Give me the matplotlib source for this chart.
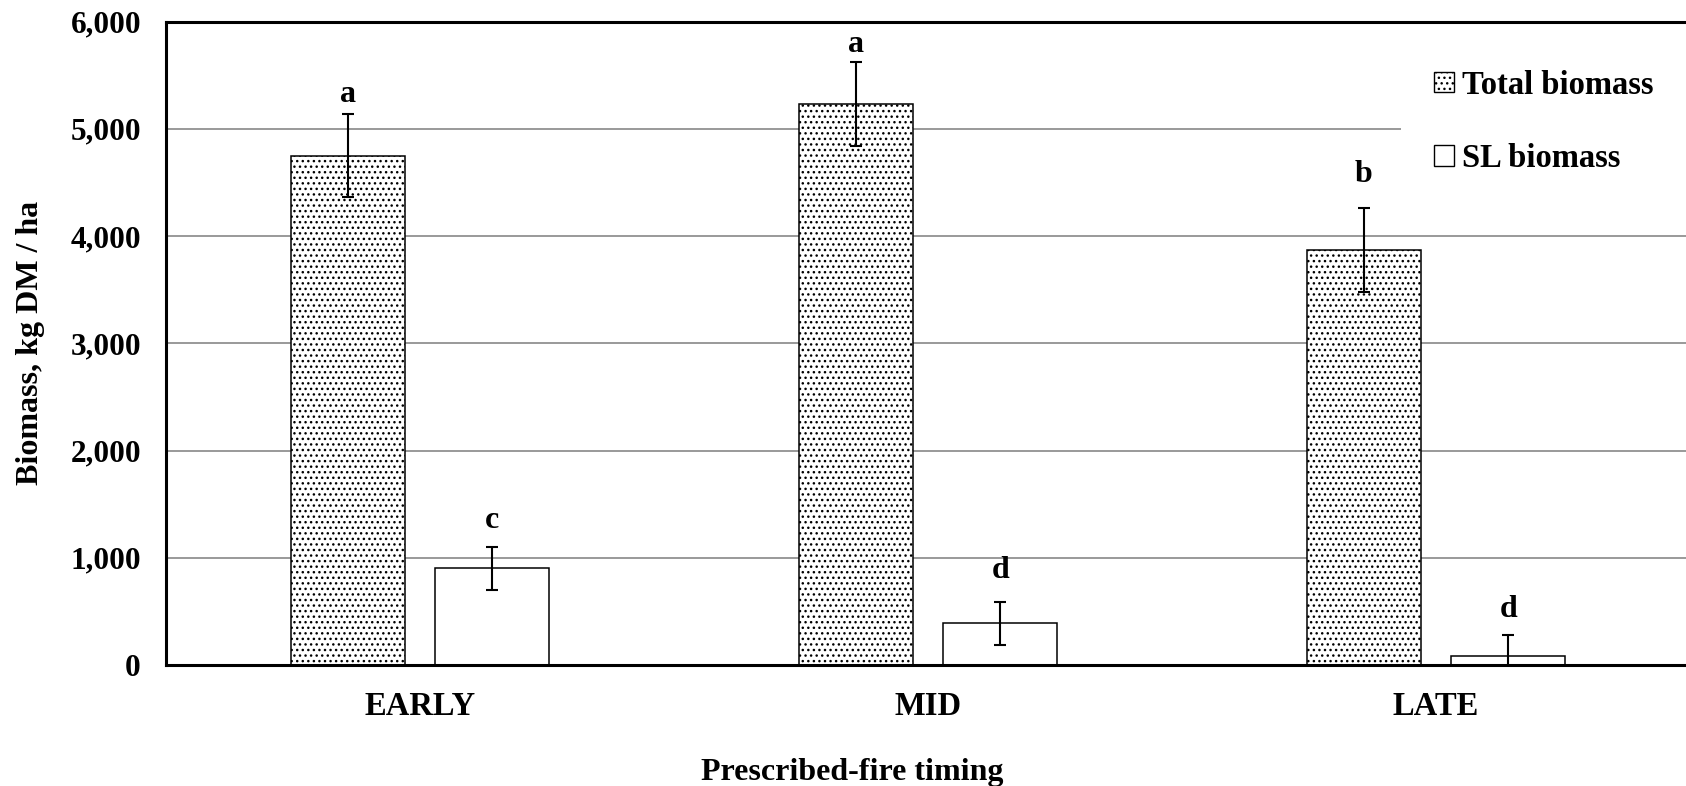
import matplotlib.pyplot as plt
import numpy as np

plt.rcParams['font.family'] = ['Liberation Serif', 'DejaVu Serif']
plt.rcParams['font.weight'] = 'bold'
plt.rcParams['hatch.linewidth'] = 1.0

# data
timings = ['EARLY', 'MID', 'LATE']
total_biomass = [4750, 5230, 3870]
total_err = [390, 390, 390]
sl_biomass = [900, 390, 80]
sl_err = [200, 200, 200]
total_letters = ['a', 'a', 'b']
sl_letters = ['c', 'd', 'd']
total_letter_y = [5320, 5790, 4570]
sl_letter_y = [1350, 880, 520]

fig = plt.figure(figsize=(16.86, 7.86), dpi=100)
ax = fig.add_axes([166 / 1686, 121 / 786, 1524 / 1686, 643.5 / 786])

x = np.arange(len(timings))
w = 0.225
off = 0.142
fs = 23

ax.bar(x - off, total_biomass, w, color='white', edgecolor='black', linewidth=1.1,
       hatch='...', label='Total biomass', zorder=2)
ax.bar(x + off, sl_biomass, w, color='white', edgecolor='black', linewidth=1.1,
       label='SL biomass', zorder=2)
ax.errorbar(x - off, total_biomass, yerr=total_err, fmt='none', ecolor='black',
            elinewidth=1.5, capsize=4, capthick=1.5, zorder=3)
ax.errorbar(x + off, sl_biomass, yerr=sl_err, fmt='none', ecolor='black',
            elinewidth=1.5, capsize=4, capthick=1.5, zorder=3)

# significance letters
for i in range(len(timings)):
    ax.text(x[i] - off, total_letter_y[i], total_letters[i], ha='center', va='center',
            fontsize=fs, fontweight='bold')
    ax.text(x[i] + off, sl_letter_y[i], sl_letters[i], ha='center', va='center',
            fontsize=fs, fontweight='bold')

ax.set_xlim(-0.5, 2.5)
ax.set_ylim(0, 6000)
ax.set_yticks(range(0, 6001, 1000))
ax.set_yticklabels([f'{v:,}' for v in range(0, 6001, 1000)])
ax.set_xticks(x)
ax.set_xticklabels(timings)
ax.tick_params(axis='both', length=0)
ax.tick_params(axis='y', pad=18, labelsize=22.5)
ax.tick_params(axis='x', pad=19, labelsize=23.5)
ax.yaxis.grid(True, color='#888888', linewidth=1.2)
ax.set_axisbelow(True)
for s in ax.spines.values():
    s.set_linewidth(2.2)

ax.set_xlabel('Prescribed-fire timing', fontsize=fs, fontweight='bold')
ax.xaxis.set_label_coords(0.45, -0.144)
ax.set_ylabel('Biomass, kg DM / ha', fontsize=fs, fontweight='bold', labelpad=18)

leg = ax.legend(loc='upper right', bbox_to_anchor=(1686 / 1686, 749 / 786),
                bbox_transform=fig.transFigure, fontsize=23.5, frameon=True,
                fancybox=False, framealpha=1, edgecolor='none', facecolor='white',
                handlelength=0.6, handleheight=0.6, handletextpad=0.25,
                labelspacing=1.3, borderpad=1.0, borderaxespad=0)
for p in leg.get_patches():
    p.set_linewidth(1.0)

fig.savefig('out.png', dpi=100)
